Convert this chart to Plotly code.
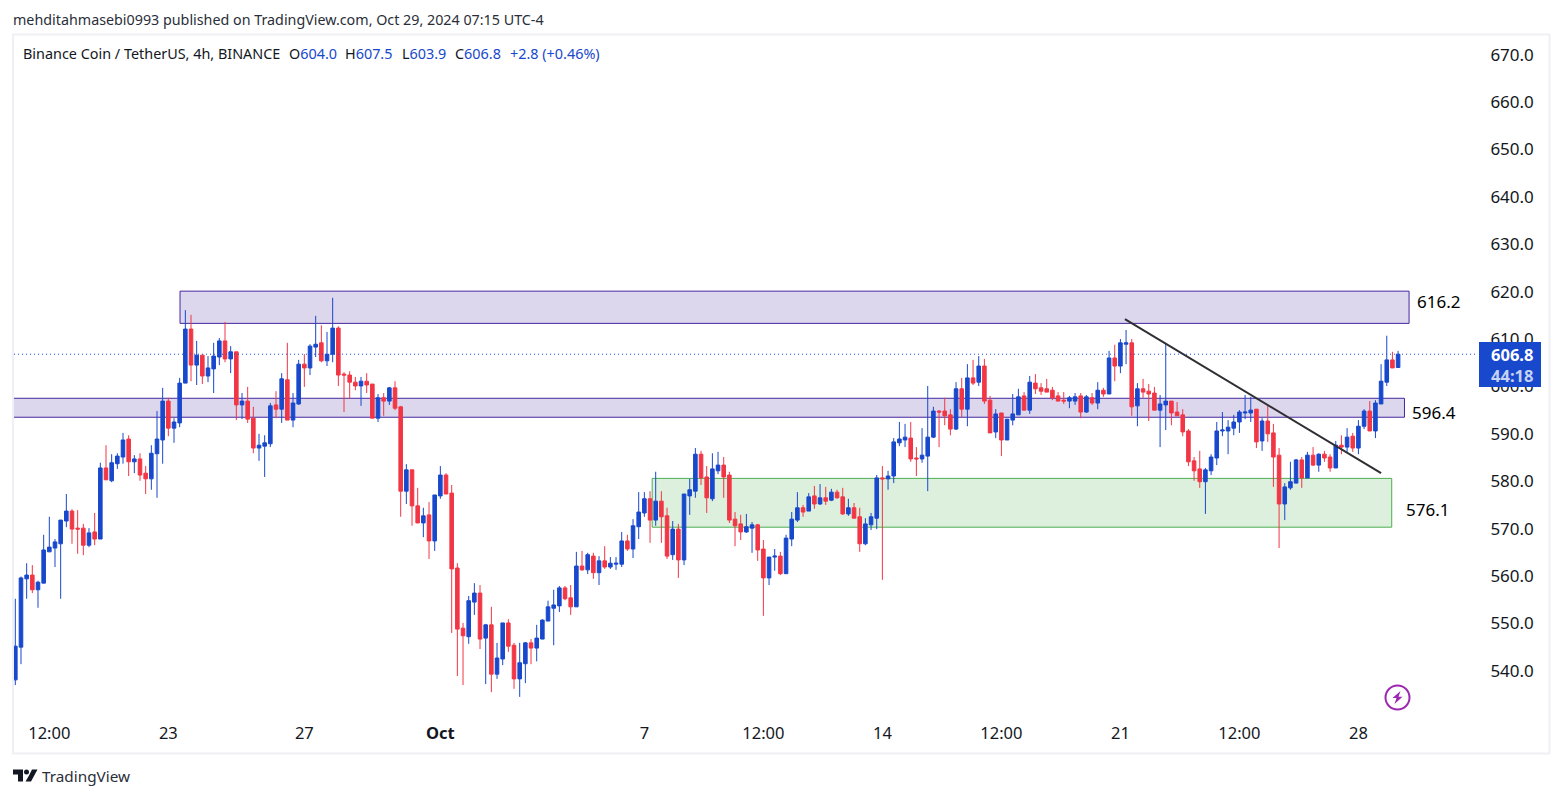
"""BNB/USDT 4h candle chart with support and resistance zones"""

import pandas as pd
import plotly.graph_objects as go

opens = [
    538.1,545.0,559.4,560.2,557.1,558.5,565.1,565.9,566.8,571.6,
    573.7,570.1,570.1,566.5,569.3,567.8,582.8,580.1,583.7,585.1,
    588.9,584.1,584.7,581.7,580.5,585.8,588.7,596.9,591.2,592.3,
    600.7,612.1,604.5,606.6,602.2,603.7,606.2,609.6,605.8,607.3,
    596.1,596.9,593.3,587.0,587.4,587.9,596.1,595.2,601.4,592.9,
    596.3,604.7,603.9,608.3,609.2,605.4,606.8,612.3,602.6,602.4,
    600.9,600.1,601.1,600.5,593.3,597.6,596.9,599.7,595.7,577.9,
    582.4,574.8,571.2,572.9,567.4,576.9,581.3,577.5,561.7,549.0,
    547.2,554.5,556.4,546.9,549.7,539.3,542.5,550.1,545.4,538.3,
    541.5,545.9,544.8,546.7,550.5,553.2,553.7,557.5,555.4,553.5,
    562.1,561.3,564.2,560.7,563.2,561.9,562.5,562.5,567.4,565.7,
    570.4,573.3,576.3,571.8,575.8,572.7,564.5,569.9,563.4,576.9,
    577.9,585.7,580.9,576.3,582.2,583.4,581.3,572.0,571.0,569.3,
    570.1,570.8,565.7,559.6,564.0,564.2,560.5,567.8,571.8,574.4,
    573.7,576.9,575.2,576.5,576.0,577.7,576.7,573.1,574.4,572.5,
    566.8,570.8,572.2,580.7,580.5,581.1,588.1,588.7,589.1,584.9,
    584.7,585.3,589.3,594.8,594.8,594.0,591.0,599.5,595.2,601.8,
    600.9,604.3,597.1,590.4,594.4,588.7,592.9,594.0,598.0,595.0,
    600.7,599.7,599.5,599.2,598.0,597.1,596.9,596.9,598.0,594.6,
    597.6,596.5,599.2,598.4,606.0,604.3,608.9,609.2,595.9,599.5,
    599.0,598.6,595.0,596.1,596.9,594.6,594.0,590.6,584.3,582.6,
    579.9,582.2,584.9,590.6,590.6,591.2,592.5,594.4,594.4,595.2,
    588.5,592.7,590.2,585.5,575.2,578.6,579.6,584.5,580.7,585.5,
    583.4,585.7,585.1,582.8,587.6,587.2,589.5,587.0,591.6,594.8,
    590.6,596.3,600.9,605.6,604.0,
]
highs = [
    555.2,559.9,562.7,562.3,559.0,568.7,572.5,567.8,571.8,577.3,
    574.1,573.9,571.0,570.1,573.3,583.9,587.6,585.7,585.9,590.2,
    589.7,585.5,585.9,583.2,587.6,594.8,599.7,597.6,593.3,601.8,
    616.1,615.1,609.6,606.6,606.4,609.2,610.2,613.6,608.5,607.3,
    598.6,599.9,595.7,590.0,589.7,596.5,599.0,602.8,609.2,598.6,
    605.6,606.8,608.9,614.9,612.9,611.5,618.7,612.7,603.0,603.2,
    602.0,602.0,602.8,600.5,598.4,598.6,599.9,601.1,595.9,583.6,
    582.4,578.6,574.4,575.6,577.1,583.2,581.7,579.2,562.7,550.1,
    555.8,558.5,558.1,549.9,553.5,545.9,550.1,550.9,545.9,545.9,
    546.1,546.7,549.7,550.9,554.8,557.1,557.9,557.9,558.1,565.1,
    565.3,564.9,564.9,564.2,566.3,564.0,564.0,569.3,568.7,572.0,
    577.7,577.7,577.9,582.0,577.9,574.4,571.6,571.0,577.3,580.5,
    587.0,586.4,583.2,585.9,586.2,585.1,582.0,573.5,572.9,573.1,
    571.4,571.0,567.6,564.0,565.7,565.1,568.7,573.5,577.7,575.0,
    577.5,579.0,579.4,578.8,578.4,578.2,578.6,576.3,575.4,574.4,
    572.2,573.3,581.3,583.2,582.2,589.1,592.5,592.1,592.5,587.2,
    591.2,600.1,595.7,595.0,597.6,595.2,600.9,601.8,604.7,605.6,
    606.4,605.8,598.0,595.2,594.4,593.1,598.4,599.5,598.8,602.2,
    602.6,600.7,601.6,599.9,598.8,598.8,598.0,598.6,598.6,598.2,
    598.6,600.9,599.7,607.5,608.8,610.0,611.9,610.0,600.7,601.6,
    600.5,599.9,598.2,609.1,596.9,596.7,595.2,591.0,585.1,586.4,
    582.8,585.7,592.5,594.6,592.9,594.0,595.0,598.2,597.8,595.2,
    593.3,595.9,592.1,587.0,579.6,584.1,584.7,585.1,586.2,587.2,
    585.9,586.4,585.7,588.5,589.7,591.2,590.2,592.9,595.2,596.9,
    597.1,604.7,610.7,607.3,607.5,
]
lows = [
    537.0,541.4,555.2,556.4,553.3,558.5,565.1,561.9,555.2,570.3,
    566.8,564.7,564.4,566.1,566.5,567.8,580.3,579.8,582.6,583.7,
    581.1,581.7,580.1,577.3,578.2,576.5,583.7,589.5,588.1,591.4,
    600.7,601.1,600.3,600.5,600.9,598.6,604.5,605.1,602.8,592.9,
    593.1,592.3,585.9,584.3,580.9,587.2,593.3,592.3,592.9,591.4,
    596.1,599.9,602.4,606.2,605.1,604.3,605.1,600.1,594.6,597.4,
    599.2,595.9,598.6,593.3,592.5,593.8,596.1,595.0,572.5,575.2,
    570.6,571.2,568.2,563.6,565.3,576.3,577.3,548.0,538.9,537.0,
    545.7,551.8,544.6,537.2,535.5,538.3,541.2,544.0,536.2,534.5,
    537.4,541.4,542.0,546.7,550.5,545.4,552.4,554.9,551.8,553.5,
    561.1,560.4,559.4,558.1,561.5,561.5,561.3,561.9,565.3,563.8,
    567.8,572.5,567.0,570.6,567.0,563.6,563.4,559.6,562.3,572.9,
    576.5,579.2,573.3,575.8,581.5,576.5,571.2,566.3,567.6,569.1,
    564.9,563.2,551.6,558.1,561.1,560.2,560.5,566.3,571.4,572.5,
    573.7,574.2,575.0,575.0,575.8,576.3,572.9,572.7,572.2,565.1,
    566.5,569.7,569.9,559.2,578.2,579.6,587.4,587.2,584.1,581.1,
    583.9,577.9,589.1,587.2,591.8,589.7,590.8,593.5,591.6,600.3,
    600.1,596.3,590.2,589.1,585.3,588.7,591.8,594.0,595.0,594.2,
    598.4,598.2,598.8,597.1,596.9,596.3,595.4,596.1,593.3,594.4,
    596.1,595.2,597.8,598.4,601.1,602.8,604.7,593.8,591.6,597.6,
    592.7,595.0,587.2,590.8,591.8,593.8,589.5,583.2,580.1,578.6,
    573.1,581.3,583.4,589.5,585.7,589.7,590.2,593.1,592.5,587.0,
    586.4,588.3,578.8,565.9,571.8,578.2,579.6,578.6,580.7,583.2,
    582.0,584.1,582.0,582.8,585.7,586.2,586.2,585.7,591.0,590.6,
    589.1,596.3,600.1,603.9,603.9,
]
closes = [
    545.2,559.6,560.2,557.1,558.7,565.5,566.1,567.2,571.8,573.7,
    569.9,569.9,566.5,569.1,567.8,582.8,580.3,583.9,585.3,588.7,
    584.1,584.7,581.3,580.5,585.9,588.9,596.9,591.2,592.5,600.7,
    612.1,604.5,606.6,602.2,603.9,606.4,609.6,605.8,607.3,596.1,
    596.9,593.1,587.0,587.6,588.1,595.9,595.2,601.6,592.9,596.5,
    604.7,603.9,608.5,608.9,605.4,606.8,612.3,602.4,602.4,600.9,
    600.1,601.1,600.3,593.3,597.6,596.9,599.7,595.4,577.9,582.4,
    574.8,571.2,572.7,567.4,577.1,581.3,577.3,561.5,548.8,547.4,
    554.8,556.4,546.7,549.7,539.3,542.7,550.1,545.2,538.3,541.7,
    545.9,544.8,546.9,550.7,553.5,553.9,557.5,555.2,553.5,562.1,
    561.3,564.5,560.7,563.2,561.9,562.7,562.7,567.4,565.7,570.6,
    573.5,576.3,571.8,575.8,572.5,564.2,569.9,563.4,577.3,578.2,
    585.7,580.7,576.5,582.6,583.4,580.9,571.8,570.6,569.3,570.4,
    570.8,565.5,559.6,564.0,564.2,560.5,568.0,572.0,574.4,573.5,
    576.7,575.2,576.5,575.8,577.7,576.5,573.1,574.4,572.2,566.8,
    571.0,572.5,580.7,580.5,581.1,588.3,588.9,589.3,584.7,584.7,
    585.5,589.3,594.8,594.6,593.8,591.0,599.5,595.2,601.8,600.7,
    604.3,596.9,590.2,594.2,588.7,593.1,594.2,597.8,595.0,600.9,
    599.5,599.0,598.8,597.6,596.9,596.9,597.6,597.8,594.6,597.8,
    596.5,599.2,598.4,606.0,604.3,609.2,609.2,595.7,599.5,598.8,
    598.4,595.0,596.3,596.9,594.4,593.8,590.4,584.1,582.2,579.9,
    582.4,585.1,590.6,590.8,591.4,592.5,594.6,594.6,595.0,588.3,
    592.7,590.0,585.1,575.2,578.8,579.9,584.5,580.7,585.5,583.4,
    585.7,584.9,582.8,587.6,587.2,589.3,587.0,591.6,594.8,590.6,
    596.5,601.1,605.6,603.9,606.8,
]

x_tick_dates = ["2024-09-19 12:00", "2024-09-23", "2024-09-27", "2024-10-01", "2024-10-07",
                "2024-10-10 12:00", "2024-10-14", "2024-10-17 12:00", "2024-10-21",
                "2024-10-24 12:00", "2024-10-28"]
x_tick_labels = ["12:00", "23", "27", "<b>Oct</b>", "7", "12:00", "14", "12:00", "21", "12:00", "28"]
price_ticks = list(range(540, 680, 10))

# zones: start, end, low, high
zone_starts = ["2024-09-23 08:15", "2024-09-18 08:00", "2024-10-07 05:30"]
zone_ends = ["2024-10-29 11:45", "2024-10-29 08:30", "2024-10-28 23:30"]
zone_lows = [613.3, 593.5, 570.3]
zone_highs = [620.1, 597.5, 580.6]
zone_fills = ["#DCD7ED", "#DCD7ED", "#DDEFDD"]
zone_lines = ["#4527A0", "#4527A0", "#4CAF50"]

zone_label_dates = ["2024-10-29 16:00", "2024-10-29 12:30", "2024-10-29 08:00"]
zone_label_prices = [618.0, 594.4, 574.0]
zone_labels = ["616.2", "596.4", "576.1"]

trend_dates = ["2024-10-21 03:12", "2024-10-28 16:00"]
trend_prices = [614.2, 581.7]

last_price = 606.8

BLUE = "#1848CC"
RED = "#F23645"
TEXT = "#131722"
FONT = "Noto Sans"

times = pd.date_range("2024-09-18 12:00", periods=len(opens), freq="4h")

fig = go.Figure(go.Candlestick(
    x=times, open=opens, high=highs, low=lows, close=closes,
    whiskerwidth=0,
    increasing=dict(line=dict(color=BLUE, width=1), fillcolor=BLUE),
    decreasing=dict(line=dict(color=RED, width=1), fillcolor=RED),
    showlegend=False,
))

for start, end, low, high, fill, line in zip(zone_starts, zone_ends, zone_lows, zone_highs,
                                             zone_fills, zone_lines):
    fig.add_shape(type="rect", x0=start, x1=end, y0=low, y1=high, layer="below",
                  fillcolor=fill, line=dict(color=line, width=1))

fig.add_shape(type="line", x0=trend_dates[0], x1=trend_dates[1], y0=trend_prices[0], y1=trend_prices[1],
              line=dict(color="#2E2E33", width=2))
fig.add_shape(type="line", xref="paper", x0=0, x1=1, y0=last_price, y1=last_price,
              line=dict(color=BLUE, width=1, dash="1px,3px"))


def px_x(value):
    return (value - 14) / 1464


def px_y(value):
    return (716 - value) / 681


# price tag on the axis
fig.add_shape(type="rect", xref="paper", yref="paper", x0=px_x(1479), x1=px_x(1541), y0=px_y(387), y1=px_y(342),
              fillcolor=BLUE, line=dict(width=0))
# outer frame
fig.add_shape(type="rect", xref="paper", yref="paper", x0=px_x(13), x1=px_x(1549.5), y0=px_y(753.5), y1=px_y(34.5),
              line=dict(color="#EFF0F6", width=2))
# lightning badge
fig.add_shape(type="circle", xref="paper", yref="paper", xsizemode="pixel", ysizemode="pixel",
              xanchor=px_x(1397.5), yanchor=px_y(697.5), x0=-12, x1=12, y0=-12, y1=12,
              line=dict(color="#9C27B0", width=2))
fig.add_shape(type="path", xref="paper", yref="paper", xsizemode="pixel", ysizemode="pixel",
              xanchor=px_x(1397.5), yanchor=px_y(697.5),
              path="M 3 6.5 L -5 -0.5 L -1 -0.5 L -3 -6.5 L 5 0.8 L 1 0.8 Z",
              fillcolor="#9C27B0", line=dict(width=0))
# TradingView mark
fig.add_shape(type="path", xref="paper", yref="paper", xsizemode="pixel", ysizemode="pixel",
              xanchor=px_x(13), yanchor=px_y(769.5),
              path="M 0 0 L 10 0 L 10 -12 L 5 -12 L 5 -5 L 0 -5 Z",
              fillcolor="#131722", line=dict(width=0))
fig.add_shape(type="circle", xref="paper", yref="paper", xsizemode="pixel", ysizemode="pixel",
              xanchor=px_x(13), yanchor=px_y(769.5), x0=11, x1=16, y0=0, y1=-5,
              fillcolor="#131722", line=dict(width=0))
fig.add_shape(type="path", xref="paper", yref="paper", xsizemode="pixel", ysizemode="pixel",
              xanchor=px_x(13), yanchor=px_y(769.5),
              path="M 19 0 L 24.5 0 L 18 -12 L 12.5 -12 L 16 -6 Z",
              fillcolor="#131722", line=dict(width=0))


def add_text(x, y, text, color=TEXT, size=14.4, anchor="left"):
    fig.add_annotation(xref="paper", yref="paper", x=px_x(x), y=px_y(y), text=text, showarrow=False,
                       xanchor=anchor, yanchor="middle", align="left", borderpad=0, borderwidth=0,
                       font=dict(family=FONT, size=size, color=color))


add_text(13, 19.5, "mehditahmasebi0993 published on TradingView.com, Oct 29, 2024 07:15 UTC-4", "#2A2E39", 14.3)
add_text(23, 53.5, "Binance Coin / TetherUS, 4h, BINANCE")
for x, key, value in [(289, "O", "604.0"), (345, "H", "607.5"), (402, "L", "603.9"), (455, "C", "606.8")]:
    add_text(x, 53.5, f'{key}<span style="color:{BLUE}">{value}</span>')
add_text(510, 53.5, "+2.8 (+0.46%)", BLUE)
add_text(42, 776.5, "TradingView", "#2A2E39", 15.3)
add_text(1491, 354, "<b>606.8</b>", "#FFFFFF", 16.5)
add_text(1491, 375, "<b>44:18</b>", "#C5D2F2", 16.5)

for date, price, label in zip(zone_label_dates, zone_label_prices, zone_labels):
    fig.add_annotation(x=date, y=price, text=label, showarrow=False, xanchor="left", yanchor="middle",
                       font=dict(family=FONT, size=17, color="#000000"))

fig.update_layout(
    width=1563, height=798,
    margin=dict(l=14, r=85, t=35, b=82),
    paper_bgcolor="#FFFFFF", plot_bgcolor="#FFFFFF",
    font=dict(family=FONT, color=TEXT, size=16),
    boxgap=0.1,
    xaxis=dict(
        type="date",
        range=[times[0] - pd.Timedelta(minutes=56), times[0] + pd.Timedelta(hours=4 * 258.1)],
        rangeslider=dict(visible=False),
        tickmode="array", tickvals=x_tick_dates, ticktext=x_tick_labels, tickangle=0,
        showgrid=False, zeroline=False, showline=False,
        ticks="outside", ticklen=2, tickcolor="rgba(0,0,0,0)",
        tickfont=dict(family=FONT, size=16.5, color=TEXT),
    ),
    yaxis=dict(
        side="right", range=[530.47, 674.14],
        tickmode="array", tickvals=price_ticks, ticktext=[f"{v}.0" for v in price_ticks],
        showgrid=False, zeroline=False, showline=False,
        ticks="outside", ticklen=8, tickcolor="rgba(0,0,0,0)",
        tickfont=dict(family=FONT, size=17, color=TEXT),
    ),
)

fig.write_html("out.html", config=dict(displayModeBar=False), post_script="document.body.style.margin='0';")
